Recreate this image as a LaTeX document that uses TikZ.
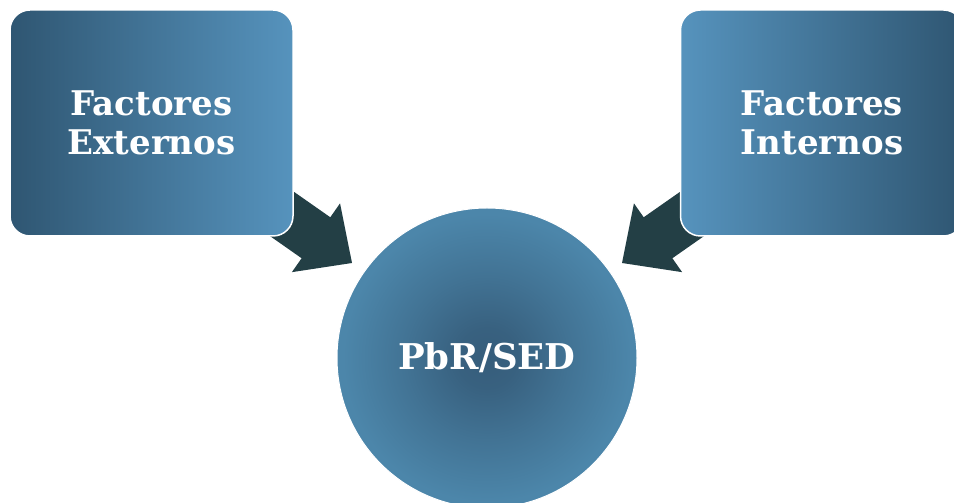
\documentclass[tikz,border=0pt]{standalone}
\usepackage{fontspec}
\setmainfont{DejaVu Serif}
\usetikzlibrary{calc}
\definecolor{boxdark}{RGB}{47,86,114}
\definecolor{boxlight}{RGB}{86,147,189}
\definecolor{circdark}{RGB}{54,93,123}
\definecolor{circlight}{RGB}{76,134,170}
\definecolor{arrowc}{RGB}{35,63,69}
\pgfdeclareradialshading{circshade}{\pgfpoint{0bp}{0bp}}{color(0bp)=(circdark); color(5bp)=(circdark!90!circlight); color(14bp)=(circdark!45!circlight); color(24bp)=(circlight); color(50bp)=(circlight)}
\tikzset{
  box/.style={rectangle, rounded corners=20pt, draw=white, line width=1.5pt,
    minimum width=283pt, minimum height=226pt, text=white, align=center,
    font=\fontsize{34}{39}\selectfont\bfseries},
  hub/.style={circle, draw=white, line width=1pt, minimum size=300pt, inner sep=0pt,
    shading=circshade, text=white, font=\fontsize{35.5}{39}\selectfont\bfseries},
  blockarrow/.style={fill=arrowc}
}
\begin{document}
\begin{tikzpicture}[x=1pt,y=1pt]
\useasboundingbox (0,0) rectangle (954,503);
\clip (0,0) rectangle (954,503);
% arrow tips
\coordinate (tipL) at (352,240);
\coordinate (tipR) at (622,240);
\begin{scope}[shift={(tipL)}, rotate=-35]
  \path[blockarrow] (0,0) -- (-44,42) -- (-44,25) -- (-130,25) -- (-130,-25) -- (-44,-25) -- (-44,-42) -- cycle;
\end{scope}
\begin{scope}[shift={(tipR)}, rotate=-145]
  \path[blockarrow] (0,0) -- (-44,42) -- (-44,25) -- (-130,25) -- (-130,-25) -- (-44,-25) -- (-44,-42) -- cycle;
\end{scope}
\node[box, left color=boxdark, right color=boxlight] (ext) at (151.5,380) {Factores\\Externos};
\node[box, left color=boxlight, right color=boxdark] (int) at (822,380) {Factores\\Internos};
\node[hub] (pbr) at (487,145) {PbR/SED};
\end{tikzpicture}
\end{document}
